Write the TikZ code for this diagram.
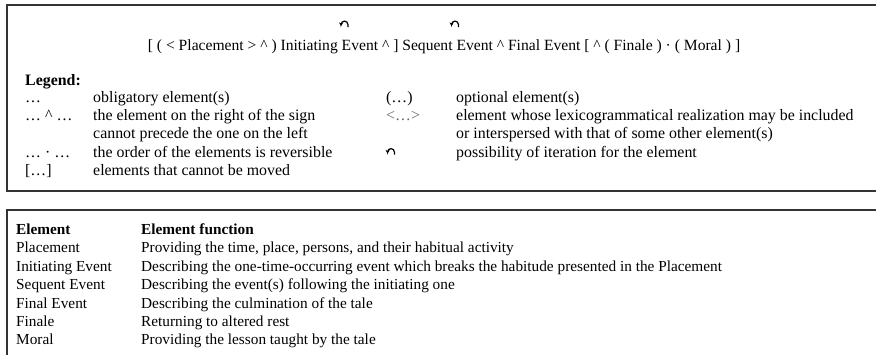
\documentclass[tikz,border=0pt]{standalone}
\usepackage{fontspec}
\setmainfont{Liberation Serif}
\usetikzlibrary{arrows.meta}
\begin{document}
\begin{tikzpicture}[x=1pt,y=-1pt,
  txt/.style={anchor=base west, inner sep=0pt, font=\fontsize{15.6}{17}\selectfont},
  ltxt/.style={anchor=base west, inner sep=0pt, font=\fontsize{15.9}{17}\selectfont},
  ttxt/.style={anchor=base west, inner sep=0pt, font=\fontsize{15.3}{17}\selectfont},
  lbold/.style={ltxt, font=\fontsize{15.9}{17}\selectfont\bfseries},
  tbold/.style={ttxt, font=\fontsize{15.3}{17}\selectfont\bfseries},
  boxline/.style={draw=black!80, line width=1.4pt},
  iter/.pic={\draw[line width=1.2pt, -{Stealth[length=3.6pt,width=4.2pt]}] (3.4,2.5) -- (3.4,0) arc (0:-180:3.4) -- (-3.4,1.5);}
]
\useasboundingbox (0,0) rectangle (876,354);
% boxes
\draw[boxline] (878,5) -- (7,5) -- (7,191) -- (878,191);
\draw[boxline] (878,210) -- (7,210) -- (7,356);
% formula
\node[txt, anchor=base] (formula) at (444,50) {[ ( < Placement > \textasciicircum{} ) Initiating Event \textasciicircum{} ] Sequent Event \textasciicircum{} Final Event [ \textasciicircum{} ( Finale ) · ( Moral ) ]};
\pic (it1) at (344.5,24.5) {iter};
\pic (it2) at (455,24.5) {iter};
% legend
\node[lbold] (leg) at (25,85) {Legend:};
\node[ltxt] (s1) at (25,102) {…};
\node[ltxt] (d1) at (93,102) {obligatory element(s)};
\node[ltxt] (s2) at (25,120) {… \textasciicircum{} …};
\node[ltxt] (d2) at (93,120) {the element on the right of the sign};
\node[ltxt] (d2b) at (93,138) {cannot precede the one on the left};
\node[ltxt] (s3) at (25,157) {… · …};
\node[ltxt] (d3) at (93,157) {the order of the elements is reversible};
\node[ltxt] (s4) at (25,175) {[…]};
\node[ltxt] (d4) at (93,175) {elements that cannot be moved};
\node[ltxt] (s5) at (386,102) {(…)};
\node[ltxt] (d5) at (456,102) {optional element(s)};
\node[ltxt, text=black!60] (s6) at (386,120) {<…>};
\node[ltxt] (d6) at (456,120) {element whose lexicogrammatical realization may be included};
\node[ltxt] (d6b) at (456,138) {or interspersed with that of some other element(s)};
\pic (it3) at (391,152) {iter};
\node[ltxt] (d7) at (456,157) {possibility of iteration for the element};
% table
\node[tbold] (h1) at (16,234) {Element};
\node[tbold] (h2) at (141,234) {Element function};
\node[ttxt] (e1) at (16,252) {Placement};
\node[ttxt] (f1) at (141,252) {Providing the time, place, persons, and their habitual activity};
\node[ttxt] (e2) at (16,271) {Initiating Event};
\node[ttxt] (f2) at (141,271) {Describing the one-time-occurring event which breaks the habitude presented in the Placement};
\node[ttxt] (e3) at (16,289) {Sequent Event};
\node[ttxt] (f3) at (141,289) {Describing the event(s) following the initiating one};
\node[ttxt] (e4) at (16,308) {Final Event};
\node[ttxt] (f4) at (141,308) {Describing the culmination of the tale};
\node[ttxt] (e5) at (16,326) {Finale};
\node[ttxt] (f5) at (141,326) {Returning to altered rest};
\node[ttxt] (e6) at (16,344) {Moral};
\node[ttxt] (f6) at (141,344) {Providing the lesson taught by the tale};
\end{tikzpicture}
\end{document}
